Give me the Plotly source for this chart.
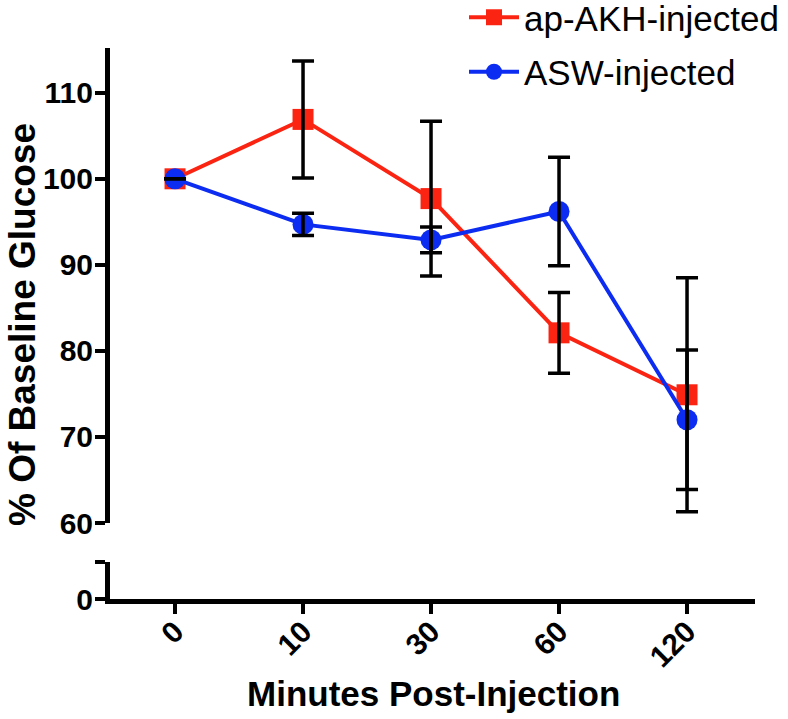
import plotly.graph_objects as go

minutes = ["0", "10", "30", "60", "120"]
akh_mean = [100.0, 106.9, 97.7, 82.1, 74.9]
akh_err = [0.0, 6.8, 9.0, 4.7, 13.6]
asw_mean = [100.0, 94.7, 92.9, 96.2, 72.0]
asw_err = [0.0, 1.3, 1.5, 6.3, 8.1]
y_ticks_upper = [60, 70, 80, 90, 100, 110]

RED = "#fb2412"
BLUE = "#0c2cf2"
FONT = "Liberation Sans, Arial, sans-serif"

fig = go.Figure()
fig.add_trace(go.Scatter(
    x=minutes, y=akh_mean, name="ap-AKH-injected", mode="lines+markers",
    line=dict(color=RED, width=4),
    marker=dict(symbol="square", size=21, color=RED),
    legendgroup="a",
))
fig.add_trace(go.Scatter(
    x=minutes, y=asw_mean, name="ASW-injected", mode="lines+markers",
    line=dict(color=BLUE, width=4),
    marker=dict(symbol="circle", size=21, color=BLUE),
    legendgroup="b",
))
# error bars drawn on top of the markers
for mean, err in ((akh_mean, akh_err), (asw_mean, asw_err)):
    fig.add_trace(go.Scatter(
        x=minutes, y=mean, mode="markers", showlegend=False, hoverinfo="skip",
        marker=dict(size=1, color="rgba(0,0,0,0)"),
        error_y=dict(type="data", array=err, visible=True, color="black",
                     thickness=3.5, width=11),
    ))
# empty helper trace so the lower (broken) axis segment exists
fig.add_trace(go.Scatter(x=[], y=[], xaxis="x", yaxis="y2",
                         showlegend=False, hoverinfo="skip"))

W, H = 788, 719
L, R, T, B = 110, 33, 48, 120
pw = W - L - R
ph = H - T - B

def px_y(py):
    return (H - B - py) / ph

def px_x(pxx):
    return (pxx - L) / pw

axis_font = dict(family=FONT, size=30, color="black", weight="bold")
lower_top = (H - B - 562) / 8.6

fig.update_layout(
    width=W, height=H,
    margin=dict(l=L, r=R, t=T, b=B, autoexpand=False),
    paper_bgcolor="white", plot_bgcolor="white",
    font=dict(family=FONT, color="black"),
    xaxis=dict(
        type="category", range=[-0.508, 4.531], anchor="y2",
        showline=True, linewidth=5, linecolor="black",
        ticks="outside", ticklen=10, tickwidth=4, tickcolor="black",
        tickangle=-45, tickfont=axis_font, showgrid=False, zeroline=False,
        automargin=False, ticklabelstandoff=-12,
    ),
    yaxis=dict(
        domain=[px_y(523), 1.0], range=[60, 115.2], anchor="x",
        tickvals=y_ticks_upper,
        showline=True, linewidth=5, linecolor="black",
        ticks="outside", ticklen=10, tickwidth=4, tickcolor="black",
        tickfont=axis_font, showgrid=False, zeroline=False,
        automargin=False, ticklabelstandoff=-4,
    ),
    yaxis2=dict(
        domain=[0, px_y(562)], range=[0, lower_top], anchor="x",
        tickvals=[0, lower_top], ticktext=["0", ""],
        showline=True, linewidth=5, linecolor="black",
        ticks="outside", ticklen=10, tickwidth=4, tickcolor="black",
        tickfont=axis_font, showgrid=False, zeroline=False,
        automargin=False, ticklabelstandoff=-4,
    ),
    legend=dict(
        x=px_x(464), y=px_y(-12), xanchor="left", yanchor="top",
        font=dict(family=FONT, size=35, color="black"),
        bgcolor="rgba(0,0,0,0)", tracegroupgap=6, itemwidth=50,
    ),
    annotations=[
        dict(text="% Of Baseline Glucose", xref="paper", yref="paper",
             x=px_x(22), y=px_y(325), textangle=-90, showarrow=False,
             xanchor="center", yanchor="middle",
             font=dict(family=FONT, size=37, color="black", weight="bold")),
        dict(text="Minutes Post-Injection", xref="paper", yref="paper",
             x=px_x(433), y=px_y(693), showarrow=False,
             xanchor="center", yanchor="middle",
             font=dict(family=FONT, size=35, color="black", weight="bold")),
    ],
)

fig.write_html("out.html", config={"displayModeBar": False},
               post_script="document.body.style.margin='0';")
